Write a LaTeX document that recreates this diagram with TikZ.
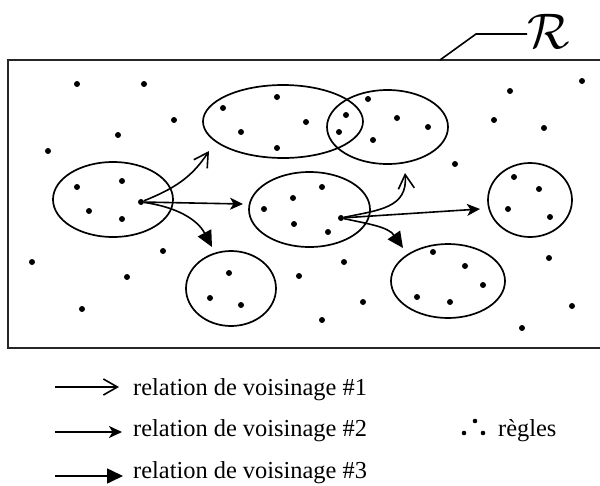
\documentclass[tikz,border=0pt]{standalone}
\usepackage{fix-cm}
\usepackage{fontspec}
\setmainfont{Liberation Serif}
\usetikzlibrary{positioning,arrows.meta,shapes.geometric}

\begin{document}
\begin{tikzpicture}[
  x=1pt, y=-1pt,
  cadre/.style={draw=black!85, line width=2.2pt},
  voisin/.style={draw, ellipse, line width=1.7pt, inner sep=0pt},
  regle/.style={circle, fill, inner sep=0pt, minimum size=6pt},
  petite/.style={circle, fill, inner sep=0pt, minimum size=4.6pt},
  relun/.style={-{Straight Barb[length=14pt,width=16pt,line width=1.6pt]}, line width=1.6pt},
  reldeux/.style={-{Stealth[length=13pt,width=12pt,inset=3.5pt]}, line width=1.6pt},
  reltrois/.style={-{Triangle[length=16pt,width=15pt]}, line width=1.6pt},
  legende/.style={anchor=base west, inner sep=0pt, font=\fontsize{24.4}{28}\selectfont}
]
\useasboundingbox (0,0) rectangle (600,485);
% ensemble des regles
\draw[cadre] (8,60) rectangle (614,348);
\coordinate (attache) at (440,60);
\coordinate (coude) at (476,34);
\node[anchor=base west, inner sep=0pt, font=\fontsize{50}{50}\selectfont] (nomR) at (527,48) {$\mathcal{R}$};
\draw[line width=1.6pt] (attache) -- (coude) -- (coude -| nomR.west);

% voisinages
\node[voisin, minimum width=160pt, minimum height=73pt] (voisA) at (283,121.5) {};
\node[voisin, minimum width=121pt, minimum height=74pt] (voisB) at (387.5,127) {};
\node[voisin, minimum width=120pt, minimum height=75pt] (voisC) at (113,199.5) {};
\node[voisin, minimum width=121pt, minimum height=75pt] (voisD) at (309.5,209.5) {};
\node[voisin, minimum width=90pt, minimum height=75pt] (voisE) at (231,288.5) {};
\node[voisin, minimum width=84pt, minimum height=74pt] (voisF) at (530,200) {};
\node[voisin, minimum width=114pt, minimum height=74pt] (voisG) at (448,281) {};

% regles
\foreach \x/\y [count=\i] in {77/84, 144/84, 174/120, 118/135, 48/151, 510/91, 582/81,
  494/120, 544/128, 455/164, 163/251, 32/262, 127/277, 82/309, 299/276, 344/262,
  363/302, 322/320, 549/258, 572/306, 522/328,
  223/108, 277/97, 241/132, 277/148, 306/122, 346/115, 339/132,
  368/99, 397/118, 428/127, 373/140,
  77/187, 122/181, 89/211, 122/219,
  264/209, 293/198, 294/224, 322/187, 328/232,
  229/273, 210/298, 241/305,
  514/177, 539/189, 508/209, 550/217,
  433/252, 465/266, 483/285, 417/297, 450/302}
  \node[regle] (r\i) at (\x,\y) {};
\node[regle] (srcC) at (141,202) {};
\node[regle] (srcD) at (341,218) {};

% relations de voisinage
\coordinate (finCa) at (209,151);
\coordinate (finCb) at (243,204);
\coordinate (finCc) at (212,247);
\coordinate (finDa) at (405,173);
\coordinate (finDb) at (480,209);
\coordinate (finDc) at (403,248);
\draw[relun] (srcC) to[out=22,in=237] (finCa);
\draw[reldeux] (srcC) -- (finCb);
\draw[reltrois] (srcC) to[out=-8,in=118] (finCc);
\draw[relun] (srcD) to[out=12,in=-85,looseness=1.2] (finDa);
\draw[reldeux] (srcD) -- (finDb);
\draw[reltrois] (srcD) to[out=-12,in=125] (finDc);

% legende
\node[legende] (legun) at (133,395) {relation de voisinage \#1};
\node[legende] (legdeux) at (133,436) {relation de voisinage \#2};
\node[legende] (legtrois) at (133,478) {relation de voisinage \#3};
\coordinate (depun) at (55,387);
\coordinate (depdeux) at (55,432);
\coordinate (deptrois) at (55,476);
\draw[relun] (depun) -- ++(64,0);
\draw[reldeux] (depdeux) -- ++(67,0);
\draw[reltrois] (deptrois) -- ++(68,0);
\node[petite] (pa) at (464,433) {};
\node[petite] (pb) at (475,421) {};
\node[petite] (pc) at (483,433) {};
\node[legende] (legregles) at (498,436) {règles};
\end{tikzpicture}
\end{document}
